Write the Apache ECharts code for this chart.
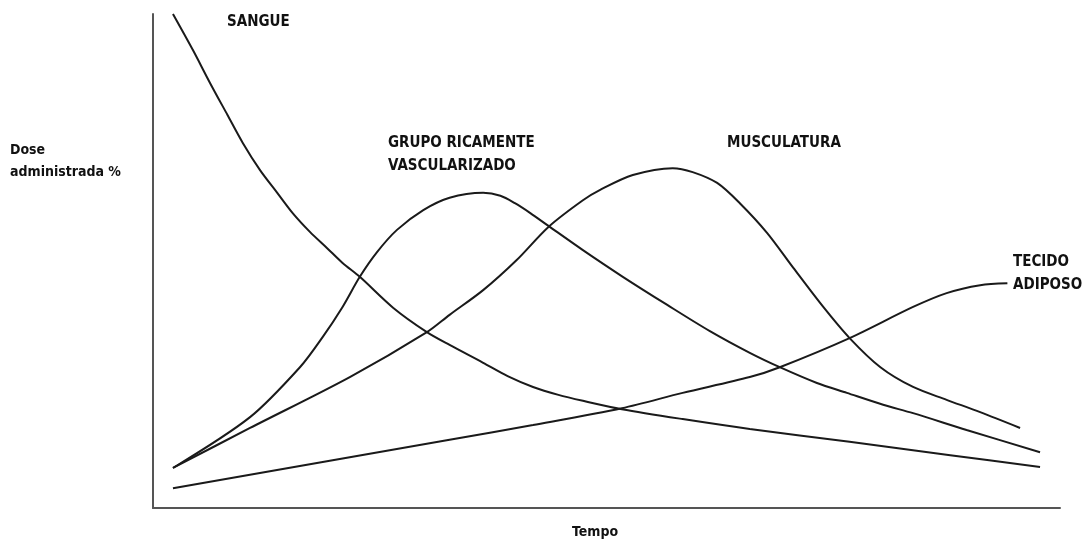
<!DOCTYPE html>
<html>
<head>
<meta charset="utf-8">
<script src="https://cdn.jsdelivr.net/npm/echarts@6/dist/echarts.min.js"></script>
<style>html,body{margin:0;padding:0;background:#fff}#c{width:1085px;height:547px}</style>
</head>
<body>
<div id="c"></div>
<script>
// Tempo (x) vs Dose administrada % (y), arbitrary units 0..100
const sangue = [[2.2,100],[4.4,92.7],[6.3,86.0],[8.2,79.6],[9.9,73.9],[11.8,68.4],[13.7,63.8],[15.4,59.7],[17.3,55.9],[19.2,52.6],[20.9,49.6],[22.8,46.8],[26.5,40.5],[30.2,35.6],[32.7,33.0],[36.4,29.4],[39.1,26.7],[41.9,24.5],[44.7,22.9],[47.4,21.7],[51.7,20.0],[58.4,18.0],[65.8,16.0],[76.8,13.4],[87.9,10.7],[97.8,8.3]];
const grupo = [[2.2,8.1],[10.7,18.4],[16.2,28.5],[18.7,34.6],[20.9,40.7],[22.8,46.8],[24.7,51.8],[26.9,56.3],[29.8,60.3],[32.7,62.8],[36.4,63.8],[38.3,63.2],[39.9,61.7],[41.6,59.7],[43.6,57.1],[47.4,52.2],[51.8,46.8],[56.7,41.1],[61.4,35.8],[65.8,31.4],[69.1,28.5],[73.2,25.3],[76.5,23.3],[80.5,20.9],[83.8,19.2],[89.7,15.8],[97.8,11.3]];
const musculatura = [[2.2,8.1],[10.7,16.2],[21.7,26.5],[30.2,35.6],[32.7,39.1],[36.4,44.1],[40.1,50.2],[43.6,56.9],[47.4,62.3],[49.3,64.4],[52.9,67.4],[57.3,68.8],[59.5,68.0],[62.2,65.8],[64.7,61.7],[67.7,55.7],[70.6,48.6],[73.9,40.7],[76.8,34.4],[80.2,28.5],[83.8,24.5],[87.5,21.9],[91.2,19.4],[95.6,16.2]];
const adiposo = [[2.2,4.0],[32.7,13.8],[41.9,16.8],[51.7,20.2],[58.4,23.3],[65.8,26.5],[69.1,28.5],[76.8,34.4],[83.8,40.7],[87.5,43.5],[91.2,45.1],[94.2,45.5]];
const seriesNames = ['SANGUE','GRUPO RICAMENTE VASCULARIZADO','MUSCULATURA','TECIDO ADIPOSO'];
const labelTexts = ['SANGUE','GRUPO RICAMENTE\nVASCULARIZADO','MUSCULATURA','TECIDO\nADIPOSO'];
const yTitle = 'Dose\nadministrada %';
const xTitle = 'Tempo';

const FONT = "'Liberation Sans Narrow','DejaVu Sans Condensed',Arial,sans-serif";
const chart = echarts.init(document.getElementById('c'), null, {renderer:'canvas'});
const lineStyle = {color:'#1a1a1a', width:2};
function mk(name, data){
  return {name, type:'line', data, smooth:0.3, symbol:'none', lineStyle, silent:true, animation:false};
}
const txt = (x, y, text) => ({
  type:'text', left:x, top:y,
  style:{text, fill:'#111', font:'bold 15px '+FONT, lineHeight:23}
});
chart.setOption({
  animation:false,
  grid:{left:153, right:25, top:14, bottom:39},
  xAxis:{type:'value', min:0, max:100, axisLine:{show:true, lineStyle:{color:'#555', width:2}},
    axisTick:{show:false}, axisLabel:{show:false}, splitLine:{show:false}},
  yAxis:{type:'value', min:0, max:100, axisLine:{show:true, lineStyle:{color:'#555', width:2}},
    axisTick:{show:false}, axisLabel:{show:false}, splitLine:{show:false}},
  series:[mk(seriesNames[0], sangue), mk(seriesNames[1], grupo), mk(seriesNames[2], musculatura), mk(seriesNames[3], adiposo)],
  graphic:[
    txt(227, 11, labelTexts[0]),
    txt(388, 132, labelTexts[1]),
    txt(727, 132, labelTexts[2]),
    txt(1013, 251, labelTexts[3]),
    {type:'text', left:10, top:139, style:{text:yTitle, fill:'#111', font:'bold 14px '+FONT, lineHeight:22}},
    {type:'text', left:572, top:525, style:{text:xTitle, fill:'#111', font:'bold 14px '+FONT}}
  ]
});
</script>
</body>
</html>
